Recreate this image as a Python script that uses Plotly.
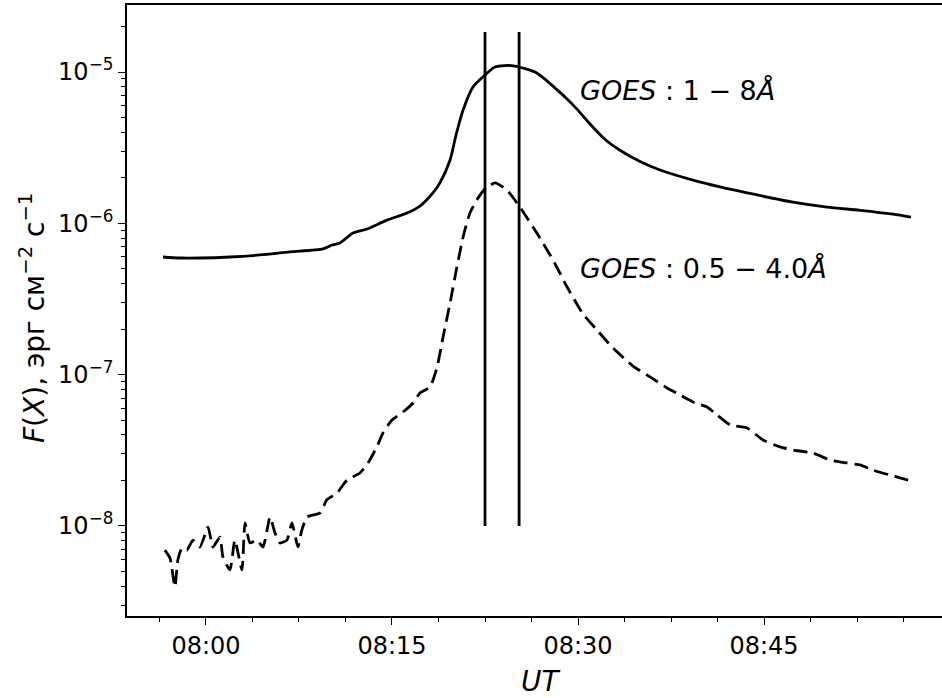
import math
import pandas as pd
import plotly.graph_objects as go

DAY = "2012-07-06 "

# GOES 1-8 Å channel (solid curve)
long_times = [
    "07:56:32", "07:57:54", "07:59:31", "08:01:56", "08:04:21", "08:06:46",
    "08:09:26", "08:10:10", "08:10:48", "08:11:51", "08:12:59", "08:14:36",
    "08:16:13", "08:17:15", "08:18:18", "08:18:52", "08:19:41", "08:20:10",
    "08:20:44", "08:21:32", "08:22:30", "08:23:18", "08:24:07", "08:24:55",
    "08:25:44", "08:26:32", "08:27:20", "08:28:09", "08:28:57", "08:29:55",
    "08:30:58", "08:32:11", "08:33:23", "08:35:00", "08:36:37", "08:39:16",
    "08:41:27", "08:43:38", "08:47:20", "08:50:05", "08:52:44", "08:55:24",
    "08:56:51",
]
long_flux = [
    5.99e-7, 5.90e-7, 5.90e-7, 5.99e-7, 6.18e-7, 6.47e-7,
    6.77e-7, 7.19e-7, 7.41e-7, 8.63e-7, 9.18e-7, 1.05e-6,
    1.17e-6, 1.30e-6, 1.59e-6, 1.85e-6, 2.62e-6, 3.84e-6,
    5.61e-6, 7.96e-6, 9.55e-6, 1.079e-5, 1.104e-5, 1.096e-5,
    1.054e-5, 1.00e-5, 8.99e-6, 7.84e-6, 6.84e-6, 5.69e-6,
    4.53e-6, 3.58e-6, 3.04e-6, 2.56e-6, 2.25e-6, 1.93e-6,
    1.74e-6, 1.59e-6, 1.38e-6, 1.28e-6, 1.22e-6, 1.15e-6,
    1.10e-6,
]

# GOES 0.5-4.0 Å channel (dashed curve)
short_times = [
    "07:56:41", "07:57:06", "07:57:30", "07:57:44", "07:58:04", "07:58:28",
    "07:58:57", "07:59:31", "08:00:10", "08:00:34", "08:01:08", "08:01:22",
    "08:01:56", "08:02:20", "08:02:54", "08:03:09", "08:03:33", "08:04:07",
    "08:04:36", "08:05:10", "08:05:34", "08:05:58", "08:06:32", "08:06:56",
    "08:07:25", "08:07:44", "08:08:09", "08:09:12", "08:09:45", "08:10:34",
    "08:11:22", "08:12:25", "08:13:04", "08:13:47", "08:14:16", "08:15:00",
    "08:15:53", "08:16:42", "08:17:15", "08:18:04", "08:18:38", "08:19:07",
    "08:19:41", "08:20:14", "08:20:44", "08:21:17", "08:21:51", "08:22:30",
    "08:23:19", "08:24:16", "08:25:19", "08:26:41", "08:27:59", "08:29:07",
    "08:30:24", "08:31:32", "08:32:49", "08:34:26", "08:35:48", "08:37:11",
    "08:38:14", "08:39:26", "08:40:24", "08:41:13", "08:42:16", "08:43:38",
    "08:44:55", "08:46:17", "08:47:20", "08:48:57", "08:50:19", "08:51:41",
    "08:52:44", "08:53:47", "08:55:10", "08:55:58", "08:56:37",
]
short_flux = [
    6.93e-9, 6.14e-9, 3.95e-9, 5.96e-9, 7.16e-9, 6.93e-9,
    8.07e-9, 7.26e-9, 9.84e-9, 7.26e-9, 8.45e-9, 6.24e-9,
    5.12e-9, 8.07e-9, 5.12e-9, 1.047e-8, 7.72e-9, 8.07e-9,
    7.26e-9, 1.146e-8, 8.99e-9, 7.72e-9, 8.07e-9, 1.047e-8,
    7.26e-9, 9.42e-9, 1.146e-8, 1.22e-8, 1.49e-8, 1.65e-8,
    2.01e-8, 2.24e-8, 2.61e-8, 3.33e-8, 4.11e-8, 5.01e-8,
    5.66e-8, 6.50e-8, 7.57e-8, 8.28e-8, 1.12e-7, 1.77e-7,
    2.98e-7, 5.14e-7, 8.12e-7, 1.17e-6, 1.43e-6, 1.69e-6,
    1.85e-6, 1.66e-6, 1.28e-6, 8.63e-7, 5.73e-7, 3.80e-7,
    2.52e-7, 1.97e-7, 1.50e-7, 1.14e-7, 9.66e-8, 8.17e-8,
    7.34e-8, 6.50e-8, 6.11e-8, 5.41e-8, 4.65e-8, 4.44e-8,
    3.70e-8, 3.33e-8, 3.18e-8, 3.03e-8, 2.73e-8, 2.61e-8,
    2.53e-8, 2.34e-8, 2.17e-8, 2.08e-8, 2.01e-8,
]

# interval markers
marker_times = ["08:22:30", "08:25:15"]
marker_span = [1.0e-8, 1.84e-5]

# axis settings
x_limits = ["07:53:38", "08:59:21"]
x_major = ["08:00", "08:15", "08:30", "08:45"]
y_log_limits = [-8.595, -4.557]
y_major = [1e-8, 1e-7, 1e-6, 1e-5]
y_major_text = ["10<sup>−8</sup>", "10<sup>−7</sup>", "10<sup>−6</sup>", "10<sup>−5</sup>"]

labels = ["<i>GOES</i> : 1 − 8<i>Å</i>", "<i>GOES</i> : 0.5 − 4.0<i>Å</i>"]
label_time = "08:30:00"
label_flux = [7.6e-6, 5.0e-7]


def ts(hms):
    return pd.to_datetime(DAY + hms)


FONT = "DejaVu Sans"
TICK_SIZE = 24
fig = go.Figure()

fig.add_trace(go.Scatter(
    x=[ts(t) for t in long_times], y=long_flux, mode="lines",
    line=dict(color="black", width=2.8, shape="spline", smoothing=0.7),
    showlegend=False,
))
fig.add_trace(go.Scatter(
    x=[ts(t) for t in short_times], y=short_flux, mode="lines",
    line=dict(color="black", width=2.8, dash="14px,7px", shape="spline", smoothing=0.5),
    showlegend=False,
))
for t in marker_times:
    fig.add_trace(go.Scatter(
        x=[ts(t), ts(t)], y=marker_span, mode="lines",
        line=dict(color="black", width=2.8), showlegend=False,
    ))

for text, f in zip(labels, label_flux):
    fig.add_annotation(
        x=ts(label_time), y=math.log10(f), xref="x", yref="y",
        text=text, showarrow=False, xanchor="left", yanchor="middle",
        font=dict(family=FONT, size=27, color="black"),
    )

W, H = 942, 698
L, R, T, B = 127, 0, 5, 82
pw, ph = W - L - R, H - T - B

# axis titles
fig.add_annotation(
    x=(540 - L) / pw, y=(H - B - 682) / ph, xref="paper", yref="paper",
    text="<i>UT</i>", showarrow=False, xanchor="center", yanchor="middle",
    font=dict(family=FONT, size=28, color="black"),
)
fig.add_annotation(
    x=(33 - L) / pw, y=(H - B - 318) / ph, xref="paper", yref="paper",
    text="<i>F</i>(<i>X</i>), эрг см<sup>−2</sup> с<sup>−1</sup>",
    showarrow=False, textangle=-90, xanchor="center", yanchor="middle",
    font=dict(family=FONT, size=28, color="black"),
)

y_minor = [k * 10.0 ** e for e in range(-9, -4) for k in range(2, 10)]

fig.update_layout(
    width=W, height=H,
    margin=dict(l=L, r=R, t=T, b=B, pad=0),
    paper_bgcolor="white", plot_bgcolor="white",
    font=dict(family=FONT, size=TICK_SIZE, color="black"),
    xaxis=dict(
        type="date",
        range=[ts(x_limits[0]), ts(x_limits[1])],
        tickvals=[ts(v + ":00") for v in x_major],
        ticktext=x_major,
        ticks="outside", ticklen=7, tickwidth=1.4, tickcolor="black",
        showline=True, linecolor="black", linewidth=1.6, mirror=True,
        showgrid=False, zeroline=False,
        tickfont=dict(family=FONT, size=TICK_SIZE),
        minor=dict(ticks="outside", ticklen=4, tickwidth=1.2, tickcolor="black",
                   dtick=225000, tick0=ts("08:00:00"), showgrid=False),
    ),
    yaxis=dict(
        type="log",
        range=y_log_limits,
        tickvals=y_major, ticktext=y_major_text,
        ticks="outside", ticklen=7, tickwidth=1.4, tickcolor="black",
        showline=True, linecolor="black", linewidth=1.6,
        showgrid=False, zeroline=False,
        tickfont=dict(family=FONT, size=TICK_SIZE),
        minor=dict(ticks="outside", ticklen=4, tickwidth=1.2, tickcolor="black",
                   tickvals=y_minor, showgrid=False),
    ),
)

fig.write_html("out.html")
